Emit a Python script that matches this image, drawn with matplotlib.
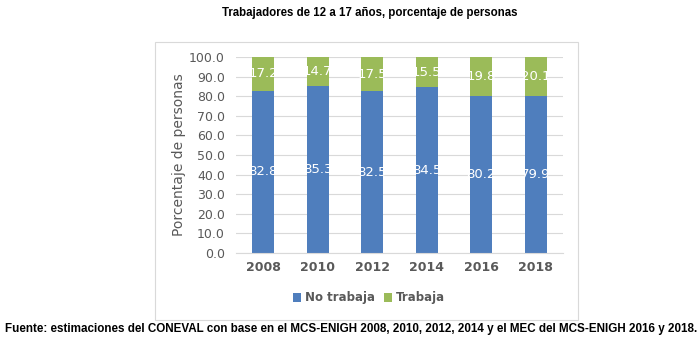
import matplotlib.pyplot as plt
from matplotlib.patches import Rectangle

years = ["2008", "2010", "2012", "2014", "2016", "2018"]
no_trabaja = [82.8, 85.3, 82.5, 84.5, 80.2, 79.9]
trabaja = [17.2, 14.7, 17.5, 15.5, 19.8, 20.1]

blue = "#4F7EBD"
green = "#9BBB59"
gray = "#595959"

plt.rcParams['font.family'] = ['Liberation Sans', 'DejaVu Sans']

fig = plt.figure(figsize=(7, 3.39), dpi=100)
ax = fig.add_axes([236/700, 1-253/339, (563-236)/700, (253-57)/339])

# chart border
fig.patches.append(Rectangle((155/700, 1-320/339), (578-155)/700, (320-42)/339,
                             transform=fig.transFigure, fill=False,
                             edgecolor="#D9D9D9", linewidth=0.8))

x = range(len(years))
b1 = ax.bar(x, no_trabaja, width=0.4, color=blue, label="No trabaja", zorder=2)
b2 = ax.bar(x, trabaja, width=0.4, bottom=no_trabaja, color=green, label="Trabaja", zorder=2)

for i in x:
    ax.text(i, no_trabaja[i] / 2, f"{no_trabaja[i]:.1f}", ha="center", va="center",
            color="white", fontsize=9.5, family="DejaVu Sans", zorder=3)
    ax.text(i, no_trabaja[i] + trabaja[i] / 2, f"{trabaja[i]:.1f}", ha="center", va="center",
            color="white", fontsize=9.5, family="DejaVu Sans", zorder=3)

ax.set_xlim(-0.5, 5.5)
ax.set_ylim(0, 100)
ax.set_yticks(range(0, 101, 10))
ax.set_yticklabels([f"{v:.1f}" for v in range(0, 101, 10)], fontsize=9, color=gray,
                   family="DejaVu Sans")
ax.set_xticks(list(x))
ax.set_xticklabels(years, fontsize=9, color=gray, fontweight="bold", family="DejaVu Sans")
ax.tick_params(length=0, pad=6)
ax.tick_params(axis="y", pad=8)
ax.grid(axis="y", color="#D9D9D9", linewidth=0.8, zorder=0)
for s in ["top", "right", "left"]:
    ax.spines[s].set_visible(False)
ax.spines["bottom"].set_color("#D9D9D9")
ax.set_ylabel("Porcentaje de personas", fontsize=10, color=gray, family="DejaVu Sans", labelpad=2)

fig.legend(handles=[b1, b2], loc="center", bbox_to_anchor=(369/700, 1-298/339), ncol=2,
           frameon=False, handlelength=0.7, handleheight=0.7, columnspacing=0.8,
           handletextpad=0.3, prop={"family": "DejaVu Sans", "weight": "bold", "size": 8.5},
           labelcolor=gray)

fig.text(370/700, 1-13/339, "Trabajadores de 12 a 17 años, porcentaje de personas",
         ha="center", va="center", fontsize=8.3, fontweight="bold")
fig.text(351/700, 1-329/339,
         "Fuente: estimaciones del CONEVAL con base en el MCS-ENIGH 2008, 2010, 2012, 2014 y el MEC del MCS-ENIGH 2016 y 2018.",
         ha="center", va="center", fontsize=8.4, fontweight="bold")

fig.savefig("out.png", dpi=100)
